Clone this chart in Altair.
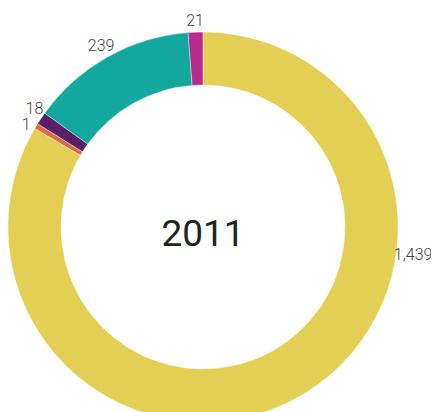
import math
import altair as alt
import pandas as pd

# ---- data ----
categories = ["Category A", "Category B", "Category C", "Category D", "Category E"]
values = [1439, 1, 18, 239, 21]
labels = ["1,439", "1", "18", "239", "21"]
colors = ["#E4CF55", "#DA6C45", "#5B1F66", "#13A89E", "#B82B8F"]
center_title = "2011"

OUTER = 195
INNER = 142
CX, CY = 195, 219
MIN_SHARE = 0.0045      # smallest slices are drawn with a minimum visible angle
MIN_LABEL_GAP = math.radians(5.2)

total = sum(values)
shown = [max(v, total * MIN_SHARE) for v in values]
shown_total = sum(shown)

mids = []
cum = 0
for s in shown:
    mids.append((cum + s / 2) / shown_total * 2 * math.pi)
    cum += s

# spread labels that would collide
for i in range(1, len(mids)):
    gap = mids[i] - mids[i - 1]
    if gap < MIN_LABEL_GAP:
        centre = (mids[i] + mids[i - 1]) / 2
        mids[i - 1] = centre - MIN_LABEL_GAP / 2
        mids[i] = centre + MIN_LABEL_GAP / 2

rows = []
for i, (c, v, s, l, m) in enumerate(zip(categories, values, shown, labels, mids)):
    # the ring is cropped at the bottom: keep the label on the visible part
    if math.radians(100) < m < math.radians(260):
        m = math.radians(97.7)
    rows.append({
        "category": c, "value": v, "shown": s, "label": l, "order": i,
        "label_theta": m,
        "label_r": OUTER + 7 + 2.0 * len(l),
    })
df = pd.DataFrame(rows)

color_scale = alt.Scale(domain=categories, range=colors)

arcs = alt.Chart(df).mark_arc(
    innerRadius=INNER, outerRadius=OUTER, stroke="white", strokeWidth=0.4
).encode(
    theta=alt.Theta("shown:Q", stack=True),
    order=alt.Order("order:Q"),
    color=alt.Color("category:N", scale=color_scale, legend=None),
    tooltip=["category:N", "value:Q"],
    x=alt.value(CX),
    y=alt.value(CY),
)

text = alt.Chart(df).mark_text(
    font="Roboto", fontWeight=300, fontSize=16, color="#444444",
    align="center", baseline="middle",
).encode(
    theta=alt.Theta("label_theta:Q", scale=None, stack=None),
    radius=alt.Radius("label_r:Q", scale=None),
    text="label:N",
    x=alt.value(CX),
    y=alt.value(CY),
)

title = alt.Chart(pd.DataFrame({"t": [center_title]})).mark_text(
    font="Roboto", fontSize=37, color="#222222", align="center", baseline="middle"
).encode(text="t:N", x=alt.value(CX), y=alt.value(CY + 8))

chart = alt.layer(arcs, text, title).resolve_scale(
    theta="independent", radius="independent"
).properties(
    width=423, height=404, padding=0, autosize="none"
).configure_view(stroke=None)

chart.save("out.html", embed_options={"renderer": "svg", "actions": False})
